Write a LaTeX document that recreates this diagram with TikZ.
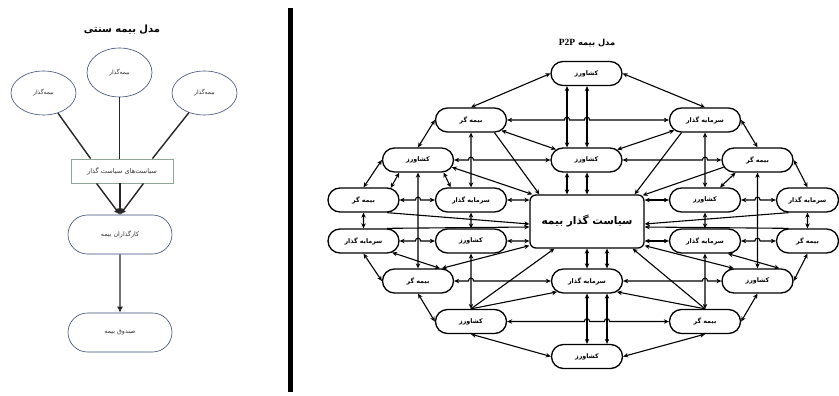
\documentclass[tikz,border=0pt]{standalone}
\usepackage{fontspec}
\usetikzlibrary{shapes.geometric,shapes.misc,arrows.meta,calc}
\newfontfamily\fa[Script=Arabic]{DejaVu Sans}
\newfontfamily\tnr{Liberation Serif}
\TeXXeTstate=1
\definecolor{navy}{HTML}{3A4A78}
\definecolor{sage}{HTML}{8FA598}
\definecolor{txt}{HTML}{333333}
\tikzset{
  ell/.style={draw=navy, line width=0.6pt, ellipse, minimum width=65pt, minimum height=44pt, inner sep=0pt, text=txt, font=\fa\fontsize{6}{7}\selectfont},
  polbox/.style={draw=sage, line width=0.9pt, rectangle, minimum width=102pt, minimum height=24pt, inner sep=0pt, text=txt, font=\fa\fontsize{6.6}{7}\selectfont},
  lstad/.style={draw=navy, line width=0.6pt, rounded rectangle, minimum width=104pt, minimum height=39pt, inner sep=0pt, text=txt, font=\fa\fontsize{6.3}{7}\selectfont},
  lline/.style={line width=1.4pt, draw=black!85},
  pn/.style={draw, line width=1.3pt, rounded rectangle, minimum width=71pt, minimum height=24pt, inner sep=0pt, font=\fa\bfseries\fontsize{6.3}{7}\selectfont},
  pnr/.style={pn, minimum width=62pt},
  cbox/.style={draw, line width=1.3pt, rectangle, rounded corners=6pt, minimum width=114pt, minimum height=53pt, inner sep=0pt, font=\fa\bfseries\fontsize{10.5}{12}\selectfont},
  par/.style={line width=1.1pt, {Stealth[length=5pt,width=4.5pt]}-{Stealth[length=5pt,width=4.5pt]}},
  pto/.style={line width=1.1pt, -{Stealth[length=5pt,width=4.5pt]}},
  jmp/.style={insert path={-- ($(#1)+(-2.6,0)$) .. controls ($(#1)+(-2.6,-3.8)$) and ($(#1)+(2.6,-3.8)$) .. ($(#1)+(2.6,0)$)}}
}
\begin{document}
\begin{tikzpicture}[x=1pt,y=-1pt]
\useasboundingbox (0,0) rectangle (839,396);
% ---------- traditional model ----------
\node[font=\fa\bfseries\fontsize{10}{12}\selectfont] (t1) at (122,30) {\beginR مدل بیمه سنتی\endR};
\node[ell] (e1) at (43.5,93) {\beginR بیمه‌گذار\endR};
\node[ell, minimum height=49pt] (e2) at (119.5,72.5) {\beginR بیمه‌گذار\endR};
\node[ell] (e3) at (204.5,93) {\beginR بیمه‌گذار\endR};
\node[polbox] (pol) at (122,171) {\beginR سیاست‌های سیاست گذار\endR};
\node[lstad] (kar) at (120,234.5) {\beginR کارگذاران بیمه\endR};
\node[lstad] (san) at (120,332.5) {\beginR صندوق بیمه\endR};
\draw[lline] (e1) -- ([xshift=20pt]pol.north west);
\draw[lline] (e2.south) -- (e2.south |- pol.north);
\draw[lline] (e3) -- ([xshift=-21pt]pol.north east);
\draw[lline,-{Latex[length=6pt,width=6pt]}] ([xshift=26pt]pol.south west) -- (kar.north);
\draw[lline,-{Latex[length=6pt,width=6pt]}] (kar.north |- pol.south) -- (kar.north);
\draw[lline,-{Latex[length=6pt,width=6pt]}] ([xshift=-30pt]pol.south east) -- (kar.north);
\draw[lline,-{Latex[length=6pt,width=6pt]}] (kar) -- (san);
% ---------- separator ----------
\fill (288,8) rectangle (293,392);
% ---------- P2P model ----------
\node[font=\fa\bfseries\fontsize{8.3}{9}\selectfont] (t2) at (587,43) {\beginR مدل بیمه \beginL{\tnr\bfseries\fontsize{9.5}{10}\selectfont P2P}\endL\endR};
\node[pn] (T) at (586.5,73.5) {\beginR کشاورز\endR};
\node[pn] (UL) at (471,120) {\beginR بیمه گر\endR};
\node[pn] (UR) at (705,120) {\beginR سرمایه گذار\endR};
\node[pn] (L2) at (418,160) {\beginR کشاورز\endR};
\node[pn] (CU) at (586.5,160) {\beginR کشاورز\endR};
\node[pn] (R2) at (757.5,160) {\beginR بیمه گر\endR};
\node[pn] (L3) at (363.5,200) {\beginR بیمه گر\endR};
\node[pn] (I3L) at (471,200) {\beginR سرمایه گذار\endR};
\node[cbox] (C) at (587,221.5) {\beginR سیاست گذار بیمه\endR};
\node[pn] (I3R) at (705,200) {\beginR کشاورز\endR};
\node[pnr] (FR3) at (807.5,200) {\beginR سرمایه گذار\endR};
\node[pn] (L4) at (363.5,241) {\beginR سرمایه گذار\endR};
\node[pn] (I4L) at (471,241) {\beginR کشاورز\endR};
\node[pn] (I4R) at (705,241) {\beginR سرمایه گذار\endR};
\node[pnr] (FR4) at (807.5,241) {\beginR بیمه گر\endR};
\node[pn] (L5) at (418,281) {\beginR بیمه گر\endR};
\node[pn] (CL) at (587,281) {\beginR سرمایه گذار\endR};
\node[pn] (R5) at (757.5,281) {\beginR کشاورز\endR};
\node[pn] (L6) at (471,321.5) {\beginR کشاورز\endR};
\node[pn] (R6) at (705,321.5) {\beginR بیمه گر\endR};
\node[pn] (B) at (587,356.5) {\beginR کشاورز\endR};
% vertical line positions
\coordinate (v418) at (418,0);
\coordinate (v471) at (471,0);
\coordinate (v567) at (567,0);
\coordinate (v587) at (587,0);
\coordinate (v607) at (607,0);
\coordinate (v705) at (705,0);
\coordinate (v757) at (757.5,0);
% outer ring
\draw[par] (T.west) -- (UL.north);
\draw[par] (T.east) -- (UR.north);
\draw[par] (UL.west) -- (L2.north);
\draw[par] (UR.east) -- (R2.north);
\draw[par] (L2.west) -- (L3.north);
\draw[par] (R2.east) -- (FR3.north);
\draw[par] (L3) -- (L4);
\draw[par] (FR3) -- (FR4);
\draw[par] (L4.south) -- (L5.west);
\draw[par] (FR4.south) -- (R5.east);
\draw[par] (L5.south) -- (L6.west);
\draw[par] (R5.south) -- (R6.east);
\draw[par] (L6.south) -- (B.west);
\draw[par] (R6.south) -- (B.east);
% horizontals
\draw[par] (UL.east) [jmp=v567|-UL.east] [jmp=v587|-UL.east] -- (UR.west);
\draw[par] (L2.east) [jmp=v471|-L2.east] -- (CU.west);
\draw[par] (CU.east) [jmp=v705|-CU.east] -- (R2.west);
\draw[par] (L3.east) [jmp=v418|-L3.east] -- (I3L.west);
\draw[par] (I3L) -- (I3L -| C.west);
\draw[par] (I3R -| C.east) -- (I3R);
\draw[par] (I3R.east) [jmp=v757|-I3R.east] -- (FR3.west);
\draw[par] (L4.east) [jmp=v418|-L4.east] -- (I4L.west);
\draw[par] (I4L) -- (I4L -| C.west);
\draw[par] (I4R -| C.east) -- (I4R);
\draw[par] (I4R.east) [jmp=v757|-I4R.east] -- (FR4.west);
\draw[par] (L5.east) [jmp=v471|-L5.east] -- (CL.west);
\draw[par] (CL.east) [jmp=v705|-CL.east] -- (R5.west);
\draw[par] (L6.east) [jmp=v587|-L6.east] [jmp=v607|-L6.east] -- (R6.west);
% verticals
\draw[par] (v567|-T.south) -- (v567|-CU.north);
\draw[par] (v587|-T.south) -- (v587|-CU.north);
\draw[par] (v567|-CU.south) -- (v567|-C.north);
\draw[par] (v587|-CU.south) -- (v587|-C.north);
\draw[par] (v587|-C.south) -- (v587|-CL.north);
\draw[par] (v607|-C.south) -- (v607|-CL.north);
\draw[par] (v587|-CL.south) -- (v587|-B.north);
\draw[par] (v607|-CL.south) -- (v607|-B.north);
\draw[par] (UL) -- (I3L);
\draw[par] (I3L) -- (I4L);
\draw[par] (I4L) -- (L6);
\draw[par] (L2) -- (L5);
\draw[par] (UR) -- (I3R);
\draw[par] (I3R) -- (I4R);
\draw[par] (I4R) -- (R6);
\draw[par] (R2) -- (R5);
% diagonals
\draw[par] (UL) -- (CU);
\draw[par] (CU) -- (UR);
\draw[pto] (UL.south east) -- ([xshift=10pt]C.north west);
\draw[pto] (UR.south west) -- ([xshift=-10pt]C.north east);
\draw[par] (L2.-12) -- ([xshift=3pt]C.north west);
\draw[pto] (R2.-168) -- ([xshift=-2pt,yshift=-1pt]C.north east);
\draw[par] (L2.-146) -- (L3.24);
\draw[par] (L2.-26) -- (I3L.148);
\draw[par] (R2.-150) -- (I3R.40);
\draw[pto] (L3.south east) -- ([yshift=-2.5pt]C.west);
\draw[pto] (L4.north east) -- ([yshift=-5.5pt]C.west);
\draw[pto] (FR3.south west) -- ([yshift=-2.5pt]C.east);
\draw[pto] (FR4.north west) -- ([yshift=-5.5pt]C.east);
\draw[par] (L5.28) -- ([yshift=3pt]C.south west);
\draw[par] (R5.152) -- ([yshift=3pt]C.south east);
\draw[pto] (L6.north) -- ([xshift=25pt]C.south west);
\draw[pto] (R6.north) -- ([xshift=-12pt]C.south east);
\draw[pto] (L6.north) -- (CL.200);
\draw[pto] (R6.north) -- (CL.-20);
\draw[par] (L4.-22) -- (L5.30);
\draw[par] (I4R.-29) -- (R5.30);
\end{tikzpicture}
\end{document}
